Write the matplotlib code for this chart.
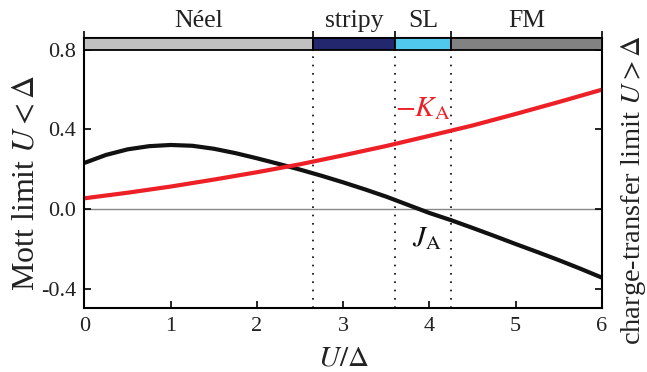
import matplotlib
matplotlib.use("Agg")
import matplotlib.pyplot as plt

plt.rcParams['font.family'] = ['Liberation Serif', 'DejaVu Serif']
plt.rcParams['mathtext.fontset'] = 'stix'
plt.rcParams['axes.unicode_minus'] = False

# ---- data ----
u_black = [0.0, 0.25, 0.5, 0.75, 1.0, 1.25, 1.5, 1.75, 2.0, 2.25, 2.5, 2.75, 3.0,
           3.25, 3.5, 3.75, 4.0, 4.25, 4.5, 4.75, 5.0, 5.25, 5.5, 5.75, 6.0]
J_A = [0.232, 0.272, 0.300, 0.316, 0.322, 0.318, 0.303, 0.281, 0.255, 0.227, 0.198,
       0.167, 0.134, 0.099, 0.062, 0.021, -0.020, -0.056, -0.095, -0.135, -0.176,
       -0.216, -0.257, -0.300, -0.345]
u_red = [0.0, 0.5, 1.0, 1.5, 2.0, 2.5, 3.0, 3.5, 4.0, 4.5, 5.0, 5.5, 6.0]
minus_K_A = [0.054, 0.082, 0.113, 0.148, 0.185, 0.225, 0.270, 0.317, 0.368, 0.420,
             0.478, 0.538, 0.600]

phase_names = ['Néel', 'stripy', 'SL', 'FM']
phase_bounds = [0.0, 2.65, 3.6, 4.25, 6.0]
phase_colors = ['#c0c0c0', '#23286e', '#50c8ee', '#828282']

x_ticks = [0, 1, 2, 3, 4, 5, 6]
y_ticks = [0.8, 0.4, 0.0, -0.4]
y_ticklabels = ['0.8', '0.4', '0.0', '-0.4']

red = '#ee2027'
txt = '#222222'

fig = plt.figure(figsize=(6.47, 3.72), dpi=100)
ax = fig.add_axes([0.1306, 0.1707, 0.7998, 0.7273])
ymin, ymax = -0.5, 0.86
ax.set_xlim(0, 6)
ax.set_ylim(ymin, ymax)

# phase bar
for i, name in enumerate(phase_names):
    left, right = phase_bounds[i], phase_bounds[i + 1]
    ax.bar(left, ymax - 0.8, width=right - left, bottom=0.8, align='edge',
           color=phase_colors[i], edgecolor='black', linewidth=1.3, zorder=3,
           clip_on=False)
    ax.annotate(name, xy=((left + right) / 2, 1.0), xycoords=('data', 'axes fraction'),
                xytext=(0, 4), textcoords='offset points', ha='center', va='bottom',
                fontsize=18.5, color=txt)

# dotted boundaries
ax.vlines(phase_bounds[1:-1], ymin, 0.8, colors='black', linestyles=(0, (1, 4)),
          linewidth=1.2, zorder=1)
ax.axhline(0, color='#888888', lw=1.0, zorder=1)

ax.plot(u_black, J_A, color='#111111', lw=3.0, zorder=2, solid_capstyle='butt')
ax.plot(u_red, minus_K_A, color=red, lw=3.0, zorder=2, solid_capstyle='butt')

ax.text(3.92, 0.505, r'$-K_{\mathrm{A}}$', color=red, fontsize=21, ha='center', va='center')
ax.text(3.97, -0.15, r'$J_{\mathrm{A}}$', color='#111111', fontsize=21, ha='center', va='center')

ax.set_xticks(x_ticks)
ax.set_xticklabels([str(v) for v in x_ticks])
ax.set_yticks(y_ticks)
ax.set_yticklabels(y_ticklabels)
ax.tick_params(direction='in', length=5, width=1.2, labelsize=16, colors='black',
               labelcolor=txt, right=True, pad=6)
for s in ax.spines.values():
    s.set_linewidth(1.5)

top = ax.twiny()
top.set_xlim(0, 6)
top.set_xticks(phase_bounds)
top.tick_params(direction='out', length=5, width=1.2, labeltop=False)
for s in top.spines.values():
    s.set_visible(False)

ax.text(0.5, -0.186, r'$U/\Delta$', transform=ax.transAxes, fontsize=21,
        ha='center', va='center', color=txt)
ax.text(-0.111, 0.464, r'Mott limit $U<\Delta$', transform=ax.transAxes,
        rotation=90, ha='center', va='center', fontsize=23, color=txt)
ax.text(1.06, 0.44, r'charge-transfer limit $U>\Delta$', transform=ax.transAxes,
        rotation=90, ha='center', va='center', fontsize=20.5, color=txt)

fig.savefig('out.png', dpi=100)
